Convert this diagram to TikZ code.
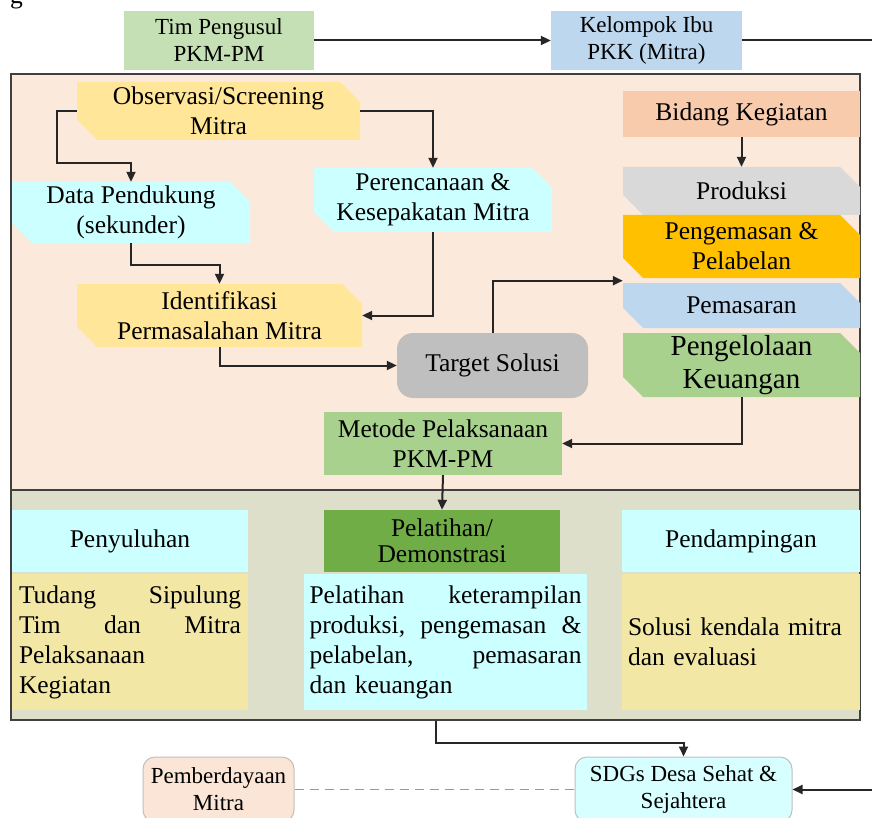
\documentclass[tikz,border=0pt]{standalone}
\usepackage{fontspec}
\setmainfont{Liberation Serif}
\usetikzlibrary{arrows.meta}
\definecolor{peach}{RGB}{251,234,219}
\definecolor{olivegray}{RGB}{222,223,203}
\definecolor{ylw}{RGB}{255,230,153}
\definecolor{cyanb}{RGB}{204,255,255}
\definecolor{timg}{RGB}{197,224,180}
\definecolor{blu}{RGB}{189,215,238}
\definecolor{salmon}{RGB}{248,203,173}
\definecolor{gryb}{RGB}{217,217,217}
\definecolor{orng}{RGB}{255,192,0}
\definecolor{grn}{RGB}{169,209,142}
\definecolor{tgtg}{RGB}{191,191,191}
\definecolor{dgrn}{RGB}{112,173,71}
\definecolor{khaki}{RGB}{243,231,166}
\definecolor{pmbf}{RGB}{251,229,214}
\definecolor{sdgf}{RGB}{215,255,255}
\tikzset{
  box/.style={rectangle, inner sep=0pt, align=center, font=\fontsize{25.5}{30}\selectfont},
  snipbox/.style={box, path picture={\fill[#1] (path picture bounding box.north west)
      -- ([xshift=-20pt]path picture bounding box.north east)
      -- ([yshift=-20pt]path picture bounding box.north east)
      -- (path picture bounding box.south east)
      -- ([xshift=20pt]path picture bounding box.south west)
      -- ([yshift=20pt]path picture bounding box.south west) -- cycle;}},
  panel/.style={rectangle, draw=black!75, line width=2.5pt},
  arr/.style={draw=black!85, line width=2pt, -{Triangle[length=10pt,width=9pt]}},
  ln/.style={draw=black!85, line width=2pt},
  small/.style={font=\fontsize{23}{27}\selectfont},
  endbox/.style={box, small, rounded corners=12pt, draw=black!25, line width=1pt},
}
\begin{document}
\begin{tikzpicture}[x=1pt,y=-1pt]
\useasboundingbox (0,0) rectangle (872,818);
% caption fragment
\node[box, anchor=base west] (cap) at (10,4) {g};
% top row
\node[box, small, fill=timg, minimum width=190, minimum height=59] (tim) at (219,40.5) {Tim Pengusul\\PKM-PM};
\node[box, small, fill=blu, minimum width=191, minimum height=59] (kel) at (646.5,40.5) {Kelompok Ibu\\PKK (Mitra)};
\coordinate (eR1) at (872,40.5);
% panels
\node[panel, fill=peach, minimum width=849, minimum height=416] (up) at (435.5,282) {};
\node[panel, fill=olivegray, minimum width=849, minimum height=230] (low) at (435.5,605) {};
% upper left flow
\node[snipbox=ylw, minimum width=283, minimum height=58] (obs) at (218.5,111) {Observasi/Screening\\Mitra};
\node[snipbox=cyanb, minimum width=238, minimum height=61] (dat) at (131,212.5) {Data Pendukung\\(sekunder)};
\node[snipbox=cyanb, minimum width=238, minimum height=64] (per) at (433,200) {Perencanaan \&\\Kesepakatan Mitra};
\node[snipbox=ylw, minimum width=285, minimum height=63] (idf) at (219.5,315.5) {Identifikasi\\Permasalahan Mitra};
\node[box, fill=tgtg, rounded corners=16pt, minimum width=191, minimum height=65] (tgt) at (492.5,365.5) {Target Solusi};
\node[box, fill=grn, minimum width=238, minimum height=63] (met) at (443,443.5) {Metode Pelaksanaan\\PKM-PM};
% right column
\node[box, fill=salmon, minimum width=237, minimum height=46] (bid) at (741.5,114) {Bidang Kegiatan};
\node[snipbox=gryb, minimum width=237, minimum height=48] (prd) at (741.5,191) {Produksi};
\node[snipbox=orng, minimum width=237, minimum height=63] (pgm) at (741.5,246.5) {Pengemasan \&\\Pelabelan};
\node[snipbox=blu, minimum width=237, minimum height=45] (pms) at (741.5,305.5) {Pemasaran};
\node[snipbox=grn, minimum width=237, minimum height=64, font=\fontsize{29}{33}\selectfont] (keu) at (741.5,365) {Pengelolaan\\Keuangan};
% lower panel
\node[box, fill=cyanb, minimum width=236, minimum height=62] (pny) at (130,541) {Penyuluhan};
\node[box, fill=khaki, minimum width=236, minimum height=136, text width=222, align=left] (tud) at (130,642)
  {Tudang \hfill Sipulung\\Tim \hfill dan \hfill Mitra\\Pelaksanaan\\Kegiatan};
\node[box, fill=dgrn, minimum width=236, minimum height=62, font=\fontsize{25.5}{26}\selectfont] (pld) at (442,541) {Pelatihan/\\Demonstrasi};
\node[box, fill=cyanb, minimum width=283, minimum height=136, text width=272, align=left] (ktr) at (445.5,642)
  {Pelatihan \hfill keterampilan\\produksi, \hfill pengemasan \hfill \&\\pelabelan, \hfill pemasaran\\dan keuangan};
\node[box, fill=cyanb, minimum width=238, minimum height=62] (pdp) at (741,541) {Pendampingan};
\node[box, fill=khaki, minimum width=238, minimum height=136, text width=226, align=left] (sol) at (741,642)
  {Solusi kendala mitra\\dan evaluasi};
% bottom
\node[endbox, fill=pmbf, minimum width=151, minimum height=65] (pmb) at (218.5,789.5) {Pemberdayaan\\Mitra};
\node[endbox, fill=sdgf, minimum width=217, minimum height=65] (sdg) at (683.5,789.5) {SDGs Desa Sehat \&\\Sejahtera};
\coordinate (eR2) at (872,789.5);
% connectors
\draw[arr] (tim.east) -- (kel.west);
\draw[ln] (kel.east) -- (eR1);
\draw[arr] (obs.west) -- ++(-20,0) -- ++(0,52) -| (dat.north);
\draw[arr] (obs.east) -| (per.north);
\draw[arr] (dat.south) -- ++(0,22) -| (idf.north);
\draw[arr] (per.south) |- (idf.east);
\draw[arr] (idf.south) |- (tgt.west);
\draw[arr] (tgt.north) |- ([yshift=-2.5pt]pgm.south west);
\draw[arr] (bid.south) -- (prd.north);
\draw[arr] (keu.south) |- (met.east);
\draw[arr] (met.south) -- (pld.north);
\draw[arr] (low.south) -- ++(0,22) -| (sdg.north);
\draw[draw=black!40, line width=1.5pt, dash pattern=on 9pt off 6pt] (pmb.east) -- (sdg.west);
\draw[arr] (eR2) -- (sdg.east);
\end{tikzpicture}
\end{document}
